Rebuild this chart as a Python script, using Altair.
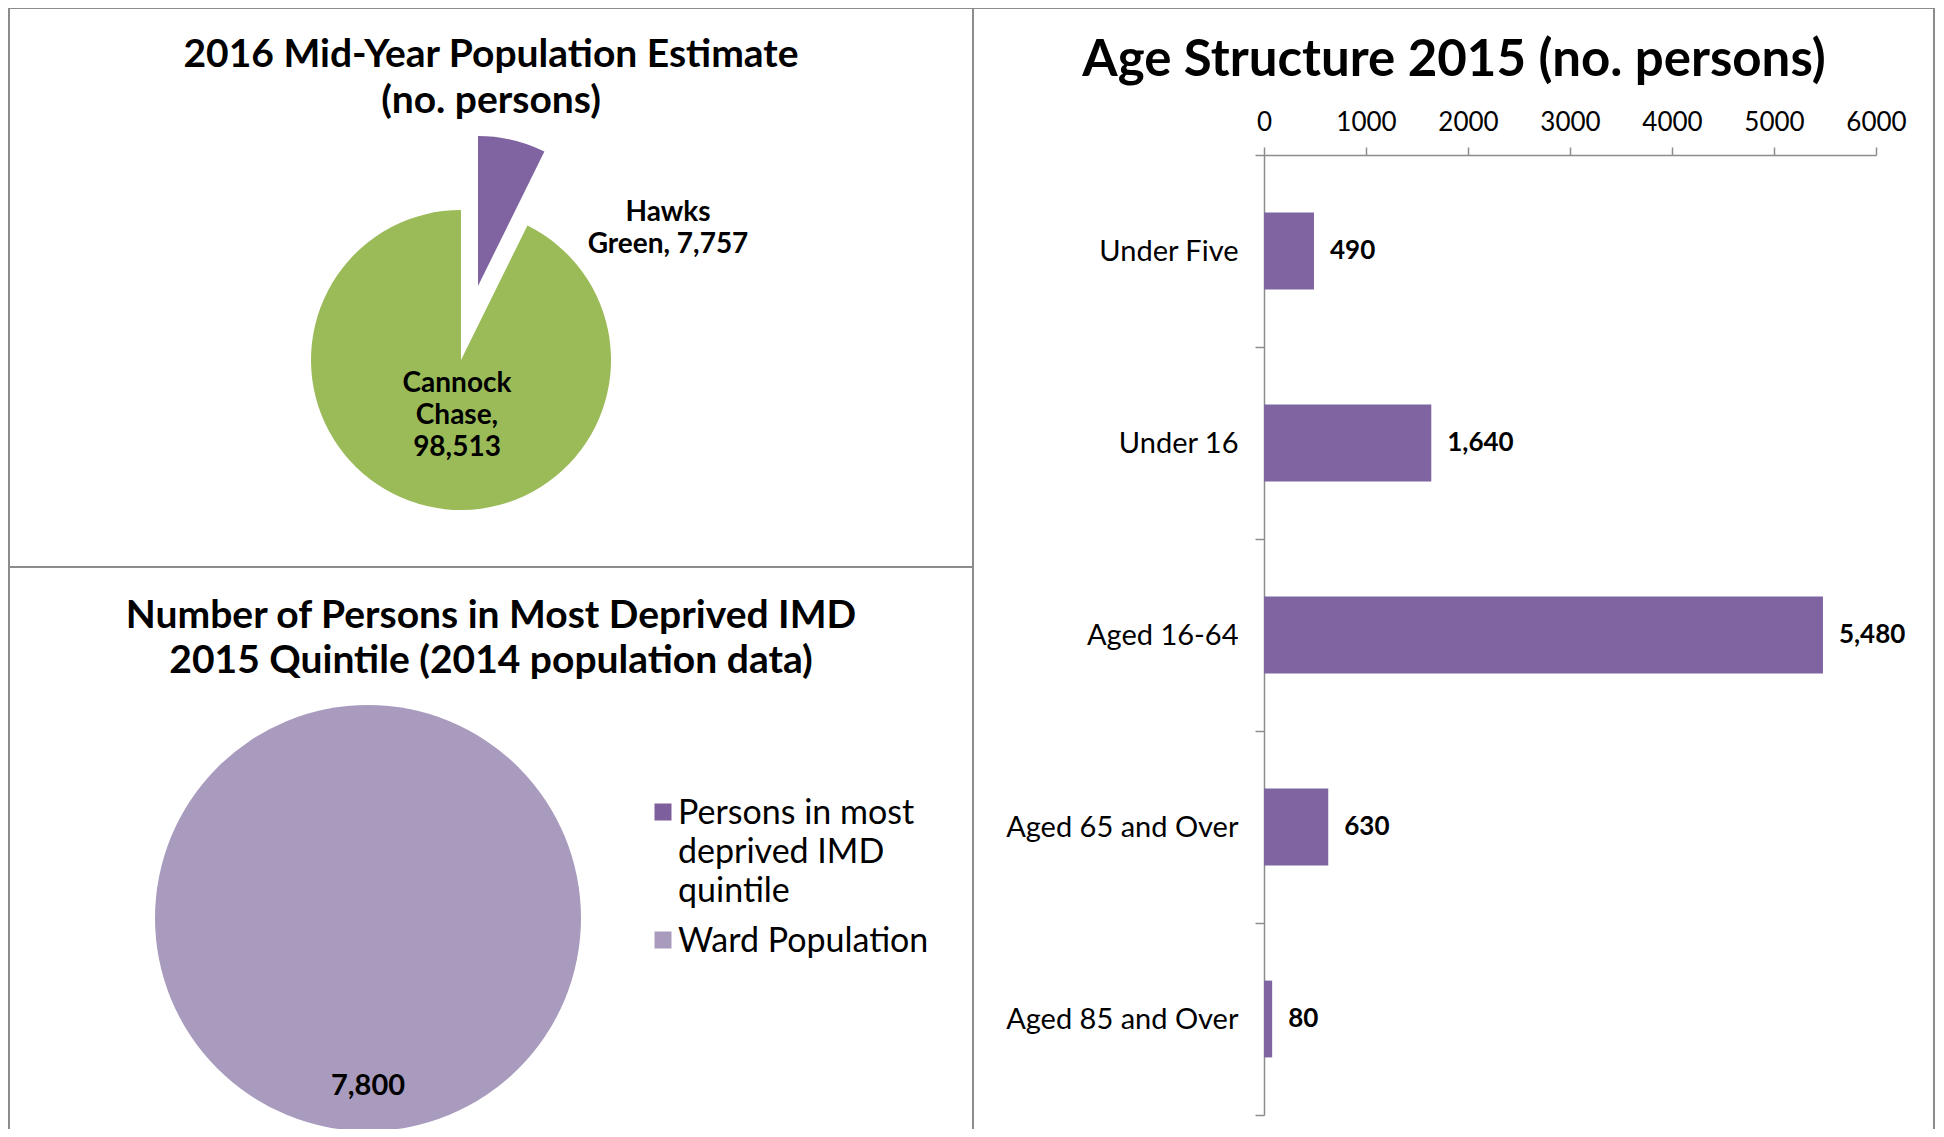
import altair as alt
import pandas as pd

# ---------------- data ----------------
pop_areas = ["Hawks Green", "Cannock Chase"]
pop_values = [7757, 98513]
pop_labels = ["Hawks\nGreen, 7,757", "Cannock\nChase,\n98,513"]

imd_groups = ["Persons in most deprived IMD quintile", "Ward Population"]
imd_values = [0, 7800]
imd_legend_labels = ["Persons in most\ndeprived IMD\nquintile", "Ward Population"]

age_groups = ["Under Five", "Under 16", "Aged 16-64", "Aged 65 and Over", "Aged 85 and Over"]
age_values = [490, 1640, 5480, 630, 80]
x_ticks = [0, 1000, 2000, 3000, 4000, 5000, 6000]

title_pop = "2016 Mid-Year Population Estimate\n(no. persons)"
title_imd = "Number of Persons in Most Deprived IMD\n2015 Quintile (2014 population data)"
title_age = "Age Structure 2015 (no. persons)"

# ---------------- style ----------------
FONT = "Lato"
GREEN = "#9BBB59"
PURPLE = "#8064A2"
LILAC = "#A99BBD"
DARK = "#7D5F9E"
LINE = "#8C8C8C"
W, H = 1928, 1121

pop_df = pd.DataFrame({"area": pop_areas, "value": pop_values,
                       "label": pop_labels, "order": [0, 1]})
imd_df = pd.DataFrame({"group": imd_groups, "value": imd_values,
                       "label": imd_legend_labels, "order": [0, 1]})
age_df = pd.DataFrame({"age": age_groups, "value": age_values})

one = alt.Data(values=[{}])

# ---------------- panel borders ----------------
def rule(x1, x2, y1, y2):
    return alt.Chart(one).mark_rule(color=LINE, strokeWidth=2).encode(
        x=alt.value(x1), x2=alt.value(x2), y=alt.value(y1), y2=alt.value(y2))

borders = [
    rule(1, 1926, 0, 0),
    rule(1, 1, 0, H),
    rule(965, 965, 0, H),
    rule(1926, 1926, 0, H),
    rule(1, 965, 559, 559),
]

# ---------------- titles ----------------
def title(text, x, y, size, lh):
    return alt.Chart(one).mark_text(
        text=text, lineBreak="\n", font=FONT, fontWeight="bold", fontSize=size,
        lineHeight=lh, align="center", baseline="middle", color="black"
    ).encode(x=alt.value(x), y=alt.value(y))

titles = [
    title(title_pop, 483, 47, 39, 46),
    title(title_imd, 483, 608, 39, 45),
    title(title_age, 1446, 53, 51, 50),
]

# ---------------- pie 1 (exploded) ----------------
pop_color = alt.Color("area:N", scale=alt.Scale(domain=pop_areas, range=[PURPLE, GREEN]), legend=None)
pop_theta = alt.Theta("value:Q", stack=True)
pop_order = alt.Order("order:Q")

pie1_main = alt.Chart(pop_df).mark_arc(radius=150).encode(
    theta=pop_theta, order=pop_order, color=pop_color,
    opacity=alt.condition(alt.datum.area == "Cannock Chase", alt.value(1), alt.value(0)),
    x=alt.value(453), y=alt.value(352))
pie1_explode = alt.Chart(pop_df).mark_arc(radius=150).encode(
    theta=pop_theta, order=pop_order, color=pop_color,
    opacity=alt.condition(alt.datum.area == "Hawks Green", alt.value(1), alt.value(0)),
    x=alt.value(470), y=alt.value(278))

def pie_label(area, x, y):
    return alt.Chart(pop_df).transform_filter(alt.datum.area == area).mark_text(
        lineBreak="\n", font=FONT, fontWeight="bold", fontSize=28, lineHeight=32,
        align="center", baseline="middle", color="black"
    ).encode(text="label:N", x=alt.value(x), y=alt.value(y))

pie1 = alt.layer(pie1_main, pie1_explode,
                 pie_label("Hawks Green", 660, 205),
                 pie_label("Cannock Chase", 449, 376))

# ---------------- pie 2 ----------------
imd_color = alt.Color("group:N", scale=alt.Scale(domain=imd_groups, range=[DARK, LILAC]), legend=None)
imd_theta = alt.Theta("value:Q", stack=True)
imd_order = alt.Order("order:Q")

pie2_arc = alt.Chart(imd_df).mark_arc(radius=213).encode(
    theta=imd_theta, order=imd_order, color=imd_color,
    x=alt.value(360), y=alt.value(910))
pie2_text = alt.Chart(imd_df).transform_filter(alt.datum.value > 0).mark_text(
    radius=168, font=FONT, fontWeight="bold", fontSize=29, color="black",
    align="center", baseline="middle"
).encode(theta=imd_theta, order=imd_order,
         text=alt.Text("value:Q", format=","),
         x=alt.value(360), y=alt.value(910))
pie2 = alt.layer(pie2_arc, pie2_text)

# manual legend for pie 2
leg_y = alt.Y("group:N", sort=imd_groups,
              scale=alt.Scale(type="point", range=[804, 932], padding=0), axis=None)
leg_sq = alt.Chart(imd_df).mark_square(size=289, opacity=1).encode(
    color=imd_color, x=alt.value(655), y=leg_y)
leg_txt = alt.Chart(imd_df).mark_text(
    lineBreak="\n", font=FONT, fontSize=34, lineHeight=39, align="left",
    baseline="top", dy=-15, color="black"
).encode(text="label:N", x=alt.value(670), y=leg_y)
legend = alt.layer(leg_sq, leg_txt)

# ---------------- bar chart ----------------
bx = alt.X("value:Q",
           scale=alt.Scale(domain=[0, 6000], range=[1256, 1868], nice=False, zero=True),
           axis=alt.Axis(orient="top", offset=-147, values=x_ticks, format="d",
                         title=None, grid=False, domainColor=LINE, domainWidth=1.5,
                         tickColor=LINE, tickWidth=1.5, tickSize=8,
                         labelFont=FONT, labelFontSize=26, labelColor="black",
                         labelPadding=12, labelFlush=False, labelOverlap=False))
by = alt.Y("age:N", sort=age_groups,
           scale=alt.Scale(range=[147, 1107], paddingInner=0, paddingOuter=0),
           axis=alt.Axis(orient="left", offset=-1256, title=None, grid=False,
                         tickBand="extent", domainColor=LINE, domainWidth=1.5,
                         tickColor=LINE, tickWidth=1.5, tickSize=9,
                         labelFont=FONT, labelFontSize=29, labelColor="black",
                         labelPadding=17, labelLimit=400))

bars = alt.Chart(age_df).mark_bar(color=PURPLE, height=alt.RelativeBandSize(0.4)).encode(x=bx, y=by)
bar_text = alt.Chart(age_df).mark_text(
    align="left", baseline="middle", dx=16, font=FONT, fontWeight="bold",
    fontSize=26, color="black"
).encode(x=alt.X("value:Q"), y=alt.Y("age:N", sort=age_groups),
         text=alt.Text("value:Q", format=","))
bar_chart = alt.layer(bars, bar_text)

# ---------------- compose ----------------
chart = alt.layer(
    *borders, *titles, pie1, pie2, legend, bar_chart
).resolve_scale(
    theta="independent", color="independent", x="independent",
    y="independent", opacity="independent"
).properties(
    width=W, height=H, padding=0,
    autosize=alt.AutoSizeParams(type="none"),
    background="white",
).configure_view(stroke=None)

chart.save("out.html", embed_options={"renderer": "svg", "actions": False})
